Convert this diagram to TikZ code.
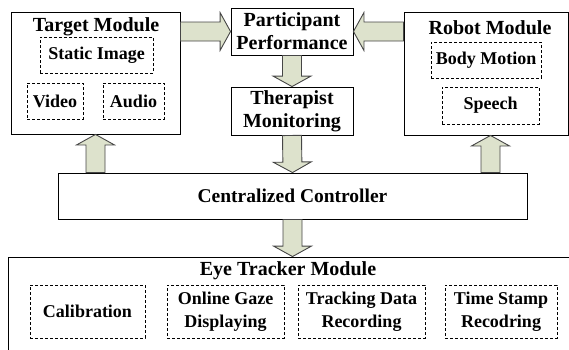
\documentclass[tikz,border=0pt]{standalone}
\usepackage{fontspec}
\setmainfont{Liberation Serif}
\usepackage{tikz}
\usetikzlibrary{calc}

\definecolor{arrowfill}{RGB}{221,226,204}
\definecolor{arrowline}{RGB}{70,70,70}

% block arrow from #1 to the tip #2
\newcommand{\fatarrow}[2]{%
  \path ($(#2)!10.5pt!(#1)$) coordinate (fa-c);
  \filldraw[fatarrow] ($(#1)!9.5pt!90:(#2)$) -- ($(fa-c)!9.5pt!90:(#2)$)
    -- ($(fa-c)!19pt!90:(#2)$) -- (#2) -- ($(fa-c)!19pt!-90:(#2)$)
    -- ($(fa-c)!9.5pt!-90:(#2)$) -- ($(#1)!9.5pt!-90:(#2)$) -- cycle;}

\begin{document}
\begin{tikzpicture}[x=1pt, y=-1pt]

\tikzstyle{every node} = [rectangle, inner sep=0pt, align=center]
\tikzstyle{modbox} = [draw, line width=0.9pt]
\tikzstyle{subbox} = [draw, line width=0.8pt, dash pattern=on 3pt off 2pt, font=\bfseries\fontsize{18}{23}\selectfont]
\tikzstyle{midbox} = [draw, line width=0.9pt, font=\bfseries\fontsize{20}{23}\selectfont]
\tikzstyle{titletext} = [font=\bfseries\fontsize{20}{24}\selectfont]
\tikzstyle{fatarrow} = [fill=arrowfill, draw=arrowline, line width=0.9pt, line join=miter]

\useasboundingbox (0,0) rectangle (569,349);
\clip (0,0) rectangle (569,349);

\node[modbox, minimum width=169pt, minimum height=122pt] (target) at (95.5,73) {};
\node[titletext] (targett) at (96,27) {Target Module};
\node[subbox, minimum width=113pt, minimum height=36pt] (static) at (96.5,55) {Static Image};
\node[subbox, minimum width=56pt, minimum height=36pt] (video) at (55,101) {Video};
\node[subbox, minimum width=61pt, minimum height=36pt] (audio) at (133.5,101) {Audio};

\node[midbox, minimum width=122pt, minimum height=47pt] (perf) at (292,31.5) {Participant\\Performance};
\node[midbox, minimum width=122pt, minimum height=48pt] (ther) at (292,111) {Therapist\\Monitoring};

\node[modbox, minimum width=164pt, minimum height=123pt] (robot) at (486,73.5) {};
\node[titletext] (robott) at (490,28) {Robot Module};
\node[subbox, minimum width=110pt, minimum height=36pt] (body) at (486,60) {Body Motion};
\node[subbox, minimum width=97pt, minimum height=37pt] (speech) at (490.5,105.5) {Speech};

\node[modbox, minimum width=469pt, minimum height=46pt, font=\bfseries\fontsize{19.5}{23}\selectfont] (ctrl) at (292.5,196) {Centralized Controller};

\node[modbox, minimum width=572pt, minimum height=103pt] (eye) at (294,308.5) {};
\node[titletext] (eyet) at (288,271) {Eye Tracker Module};
\node[subbox, minimum width=115pt, minimum height=53pt] (calib) at (87.5,311.5) {Calibration};
\node[subbox, minimum width=117pt, minimum height=53pt] (gaze) at (225.5,311.5) {Online Gaze\\Displaying};
\node[subbox, minimum width=127pt, minimum height=53pt] (track) at (361.5,311.5) {Tracking Data\\Recording};
\node[subbox, minimum width=112pt, minimum height=53pt] (stamp) at (501,311.5) {Time Stamp\\Recodring};

\coordinate (tgtout) at (target.east |- perf.west);
\coordinate (robout) at (robot.west |- perf.east);
\coordinate (tgtin) at (target.south |- ctrl.north);
\coordinate (robtip) at (speech.south |- robot.south);
\coordinate (robin) at (robtip |- ctrl.north);
\coordinate (eyetip) at (ctrl.south |- eye.north);

\fatarrow{tgtout}{perf.west}
\fatarrow{robout}{perf.east}
\fatarrow{perf.south}{ther.north}
\fatarrow{ther.south}{ctrl.north}
\fatarrow{tgtin}{target.south}
\fatarrow{robin}{robtip}
\fatarrow{ctrl.south}{eyetip}

\end{tikzpicture}
\end{document}
